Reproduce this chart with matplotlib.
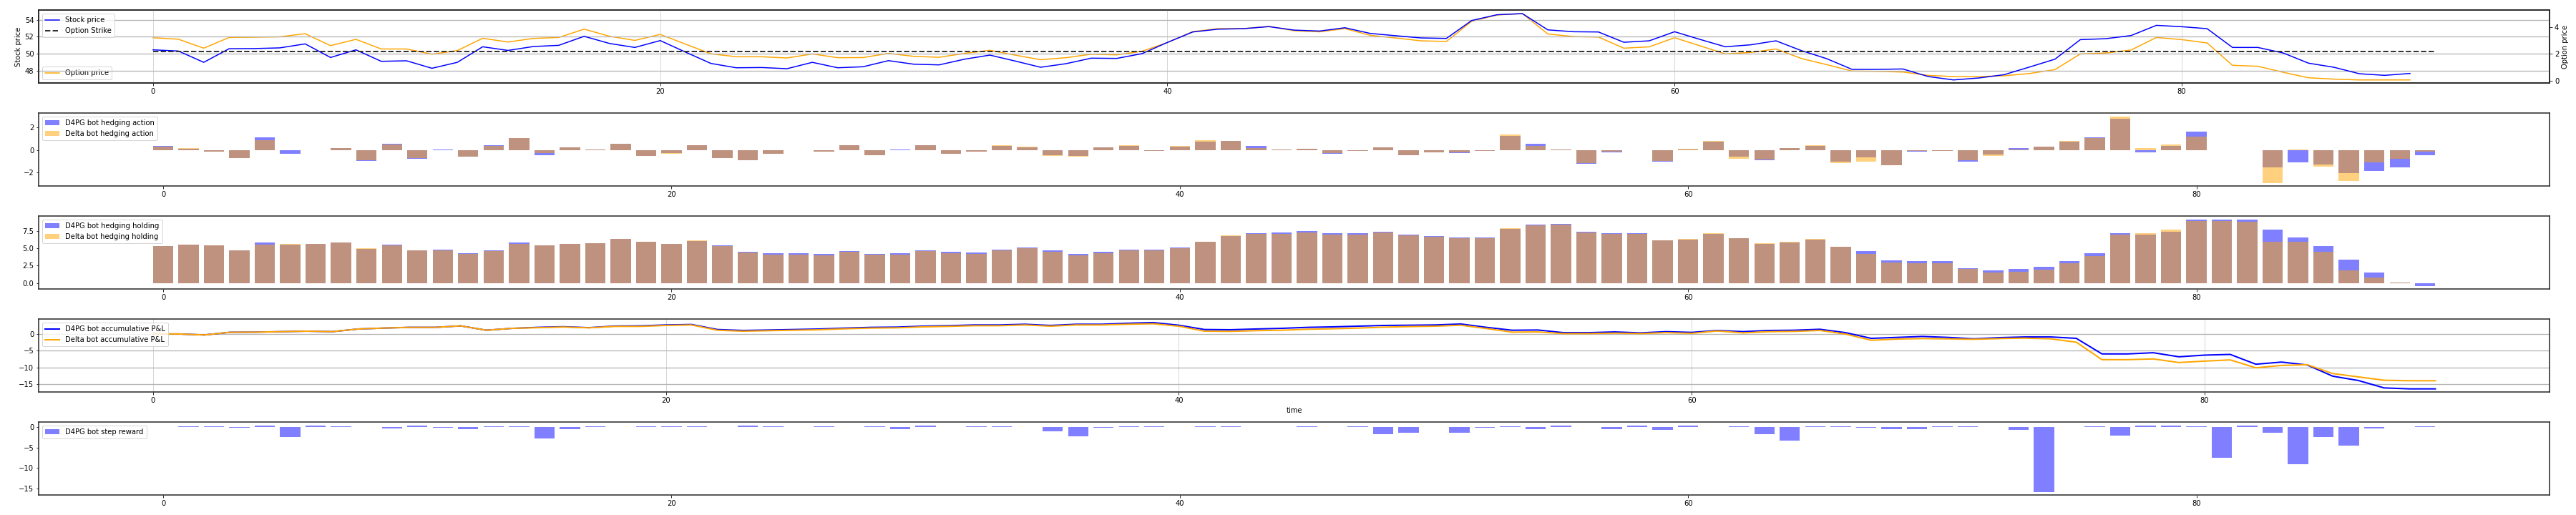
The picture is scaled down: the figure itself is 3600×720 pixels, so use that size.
import matplotlib
matplotlib.use("Agg")
import matplotlib.pyplot as plt
import numpy as np

# ---------------- data ----------------
stock_price = [50.47, 50.33, 49.0, 50.6, 50.62, 50.7, 51.17, 49.57, 50.47, 49.12,
               49.18, 48.3, 49.0, 50.83, 50.4, 50.86, 51.0, 52.06, 51.22, 50.75,
               51.56, 50.2, 48.87, 48.36, 48.39, 48.25, 49.0, 48.36, 48.48, 49.2,
               48.78, 48.7, 49.37, 49.85, 49.15, 48.42, 48.84, 49.49, 49.46, 50.02,
               51.34, 52.57, 52.9, 52.96, 53.2, 52.79, 52.68, 53.07, 52.4, 52.13,
               51.87, 51.81, 53.92, 54.6, 54.73, 52.82, 52.6, 52.57, 51.36, 51.53,
               52.6, 51.7, 50.83, 51.06, 51.53, 50.38, 49.43, 48.17, 48.17, 48.22,
               47.33, 46.93, 47.16, 47.55, 48.45, 49.37, 51.67, 51.78, 52.15, 53.35,
               53.19, 52.96, 50.75, 50.75, 50.1, 48.9, 48.42, 47.66, 47.47, 47.69]

option_price = [3.2, 3.09, 2.42, 3.22, 3.24, 3.27, 3.5, 2.61, 3.08, 2.36,
                2.36, 1.97, 2.24, 3.16, 2.88, 3.15, 3.22, 3.84, 3.31, 3.0,
                3.45, 2.72, 2.0, 1.78, 1.78, 1.69, 1.99, 1.71, 1.72, 2.03,
                1.81, 1.74, 2.03, 2.26, 1.9, 1.56, 1.71, 1.97, 1.92, 2.19,
                2.84, 3.66, 3.88, 3.88, 4.05, 3.72, 3.64, 3.88, 3.38, 3.18,
                2.97, 2.92, 4.43, 4.9, 5.0, 3.48, 3.29, 3.25, 2.42, 2.52,
                3.2, 2.6, 1.99, 2.1, 2.36, 1.65, 1.19, 0.71, 0.69, 0.64,
                0.39, 0.3, 0.3, 0.36, 0.53, 0.82, 1.99, 2.06, 2.28, 3.22,
                3.06, 2.81, 1.14, 1.07, 0.62, 0.21, 0.11, 0.05, 0.05, 0.05]

option_strike = 50.28

d4pg_action = [0.38, 0.11, -0.13, -0.7, 1.14, -0.32, 0, 0.19, -0.95, 0.57,
               -0.8, 0.05, -0.57, 0.44, 1.08, -0.44, 0.25, 0.06, 0.57, -0.49,
               -0.25, 0.44, -0.74, -0.87, -0.32, 0, -0.11, 0.44, -0.44, 0.04,
               0.44, -0.32, -0.13, 0.38, 0.25, -0.44, -0.5, 0.25, 0.38, -0.06,
               0.32, 0.76, 0.83, 0.38, 0.06, 0.13, -0.32, -0.06, 0.25, -0.44,
               -0.19, -0.25, -0.06, 1.27, 0.57, 0.06, -1.2, -0.19, -0.04, -1.02,
               0.06, 0.76, -0.57, -0.89, 0.19, 0.38, -1.02, -0.63, -1.33, -0.11,
               -0.05, -1.02, -0.38, 0.19, 0.32, 0.76, 1.14, 2.79, -0.19, 0.38,
               1.65, 0, 0, -1.52, -1.08, -1.27, -2.03, -1.84, -1.52, -0.44]

delta_action = [0.28, 0.19, -0.13, -0.7, 0.89, 0, 0, 0.19, -0.89, 0.53,
                -0.74, 0, -0.57, 0.4, 1.04, -0.25, 0.25, 0.06, 0.57, -0.49,
                -0.32, 0.44, -0.74, -0.93, -0.32, 0, -0.11, 0.44, -0.44, 0,
                0.44, -0.32, -0.13, 0.44, 0.32, -0.5, -0.57, 0.25, 0.44, -0.06,
                0.38, 0.89, 0.83, 0.19, 0.06, 0.13, -0.25, -0.06, 0.25, -0.44,
                -0.19, -0.19, -0.06, 1.4, 0.38, 0.06, -1.14, -0.13, 0, -0.97,
                0.13, 0.83, -0.76, -0.83, 0.19, 0.44, -1.14, -1.02, -1.33, -0.06,
                -0.05, -0.89, -0.5, 0.04, 0.32, 0.83, 1.06, 2.98, 0.19, 0.51,
                1.21, 0, -0.04, -2.92, 0.06, -1.46, -2.73, -1.08, -0.76, -0.13]

d4pg_holding = [5.32, 5.52, 5.42, 4.71, 5.83, 5.52, 5.63, 5.83, 4.91, 5.52,
                4.71, 4.81, 4.3, 4.71, 5.83, 5.42, 5.63, 5.73, 6.34, 5.93,
                5.63, 6.03, 5.42, 4.5, 4.3, 4.3, 4.19, 4.6, 4.19, 4.3,
                4.71, 4.5, 4.4, 4.81, 5.11, 4.71, 4.19, 4.5, 4.81, 4.81,
                5.11, 5.93, 6.75, 7.16, 7.26, 7.43, 7.16, 7.16, 7.36, 6.96,
                6.75, 6.55, 6.55, 7.77, 8.39, 8.49, 7.36, 7.16, 7.16, 6.14,
                6.24, 7.06, 6.44, 5.63, 5.83, 6.24, 5.22, 4.6, 3.27, 3.17,
                3.17, 2.15, 1.84, 2.05, 2.35, 3.17, 4.3, 7.16, 6.96, 7.36,
                9.1, 9.1, 9.1, 7.67, 6.55, 5.32, 3.38, 1.53, 0.1, -0.41]

delta_holding = [5.32, 5.52, 5.42, 4.71, 5.52, 5.63, 5.63, 5.83, 5.01, 5.42,
                 4.71, 4.71, 4.19, 4.6, 5.63, 5.42, 5.63, 5.73, 6.34, 5.93,
                 5.63, 6.14, 5.32, 4.4, 4.09, 4.09, 3.99, 4.5, 4.09, 4.09,
                 4.6, 4.3, 4.19, 4.71, 5.01, 4.5, 3.99, 4.3, 4.71, 4.71,
                 5.01, 5.93, 6.85, 7.06, 7.06, 7.23, 6.96, 6.96, 7.26, 6.85,
                 6.65, 6.44, 6.44, 7.88, 8.29, 8.39, 7.26, 7.06, 7.06, 6.14,
                 6.34, 7.16, 6.44, 5.73, 5.93, 6.34, 5.22, 4.19, 2.97, 2.86,
                 2.86, 2.05, 1.53, 1.64, 1.94, 2.86, 3.89, 6.96, 7.16, 7.67,
                 8.9, 8.9, 8.8, 5.93, 5.93, 4.5, 1.84, 0.82, 0.03, 0.0]

d4pg_pnl = [0.1, 0.1, -0.2, 0.6, 0.65, 0.8, 0.94, 0.8, 1.6, 1.88,
            2.1, 2.1, 2.54, 1.23, 1.8, 2.1, 2.3, 2.0, 2.5, 2.55,
            2.83, 2.97, 1.45, 1.16, 1.3, 1.45, 1.6, 1.88, 2.1, 2.17,
            2.46, 2.6, 2.83, 2.83, 3.04, 2.68, 3.04, 3.04, 3.33, 3.55,
            2.75, 1.45, 1.38, 1.6, 1.8, 2.1, 2.25, 2.46, 2.68, 2.75,
            2.83, 3.12, 2.1, 1.23, 1.3, 0.5, 0.5, 0.72, 0.43, 0.8,
            0.58, 1.16, 0.8, 1.16, 1.23, 1.52, 0.5, -1.23, -0.94, -0.65,
            -0.94, -1.38, -1.01, -0.8, -0.8, -1.23, -5.94, -5.94, -5.58, -6.81,
            -6.3, -6.09, -9.06, -8.41, -9.28, -12.68, -13.99, -16.23, -16.52, -16.52]

delta_pnl = [0.1, 0.1, -0.2, 0.6, 0.65, 0.8, 0.94, 0.8, 1.6, 1.88,
             2.1, 2.1, 2.54, 1.23, 1.8, 2.0, 2.2, 1.96, 2.39, 2.39,
             2.68, 2.83, 1.23, 0.94, 1.09, 1.23, 1.38, 1.67, 1.88, 1.96,
             2.25, 2.39, 2.6, 2.6, 2.83, 2.46, 2.83, 2.83, 3.04, 3.19,
             2.46, 0.94, 0.87, 1.09, 1.23, 1.52, 1.67, 1.88, 2.17, 2.32,
             2.46, 2.75, 1.74, 0.65, 0.72, 0.22, 0.22, 0.36, 0.22, 0.5,
             0.29, 1.01, 0.43, 0.8, 0.87, 1.16, 0.07, -1.81, -1.45, -1.3,
             -1.38, -1.52, -1.3, -1.16, -1.38, -2.39, -7.68, -7.68, -7.46, -8.55,
             -8.12, -7.75, -10.14, -9.42, -9.2, -11.88, -12.9, -13.91, -14.06, -14.06]

d4pg_reward = [0, 0.17, 0.17, -0.17, 0.35, -2.43, 0.35, 0.17, 0, -0.29,
               0.35, -0.17, -0.52, 0.17, 0.17, -2.72, -0.52, 0.17, 0, 0.17,
               0.17, 0.17, 0, 0.35, 0.17, 0, 0.17, 0, 0.17, -0.52,
               0.35, 0, 0.17, 0.17, 0, -1.04, -2.25, -0.17, 0.17, 0.17,
               0, 0.17, 0.17, 0, 0, 0.17, 0, 0.17, -1.73, -1.33,
               0, -1.33, -0.17, 0.17, -0.52, 0.35, 0, -0.52, 0.35, -0.69,
               0.35, 0, 0.17, -1.73, -3.29, 0.17, 0.17, -0.17, -0.52, -0.52,
               0.17, 0.17, 0, -0.69, -15.78, 0, 0.17, -2.08, 0.35, 0.35,
               0.17, -7.46, 0.35, -1.39, -9.02, -2.43, -4.51, -0.35, 0, 0.17]

# ---------------- style ----------------
plt.rcParams['font.family'] = ['DejaVu Sans']
plt.rcParams['font.size'] = 10
plt.rcParams['axes.linewidth'] = 1.5
plt.rcParams['axes.edgecolor'] = '#222222'

fig, axes = plt.subplots(5, 1, figsize=(50, 10), dpi=72)
fig.subplots_adjust(left=0.0151, right=0.9897, top=0.980, bottom=0.0385, hspace=0.4118)

t = np.arange(len(stock_price))

def add_grid(ax):
    ax.grid(axis='x', color='#cccccc', lw=0.8)
    ax.grid(axis='y', color='#b5b5b5', lw=1.3)
    ax.set_axisbelow(True)

# Panel 1: stock price & option price
ax1 = axes[0]
ax1.plot(t, stock_price, color='blue', lw=1.5, label='Stock price')
ax1.plot([0, len(stock_price)], [option_strike, option_strike], color='#333333',
         ls='--', lw=2, label='Option Strike')
ax1.set_ylabel('Stock price')
add_grid(ax1)
ax1.legend(loc='upper left')
ax1b = ax1.twinx()
ax1b.plot(t, option_price, color='orange', lw=1.5, label='Option price')
ax1b.set_ylabel('Option price')
ax1b.legend(loc='lower left')
ax1.set_zorder(ax1b.get_zorder() + 1)
ax1.patch.set_visible(False)
ax1.set_xticks([0, 20, 40, 60, 80])

# Panel 2: hedging action
ax2 = axes[1]
ax2.bar(t, d4pg_action, color='blue', alpha=0.5, label='D4PG bot hedging action')
ax2.bar(t, delta_action, color='orange', alpha=0.5, label='Delta bot hedging action')
ax2.legend(loc='upper left')
ax2.set_xticks([0, 20, 40, 60, 80])

# Panel 3: hedging holding
ax3 = axes[2]
ax3.bar(t, d4pg_holding, color='blue', alpha=0.5, label='D4PG bot hedging holding')
ax3.bar(t, delta_holding, color='orange', alpha=0.5, label='Delta bot hedging holding')
ax3.legend(loc='upper left')
ax3.set_xticks([0, 20, 40, 60, 80])

# Panel 4: accumulative P&L
ax4 = axes[3]
ax4.plot(t, d4pg_pnl, color='blue', lw=2, label='D4PG bot accumulative P&L')
ax4.plot(t, delta_pnl, color='orange', lw=2, label='Delta bot accumulative P&L')
add_grid(ax4)
ax4.set_xlabel('time')
ax4.legend(loc='upper left')
ax4.set_xticks([0, 20, 40, 60, 80])

# Panel 5: step reward
ax5 = axes[4]
ax5.bar(t, d4pg_reward, color='blue', alpha=0.5, label='D4PG bot step reward')
ax5.legend(loc='upper left')
ax5.set_xticks([0, 20, 40, 60, 80])

fig.savefig('out.png', dpi=72)
